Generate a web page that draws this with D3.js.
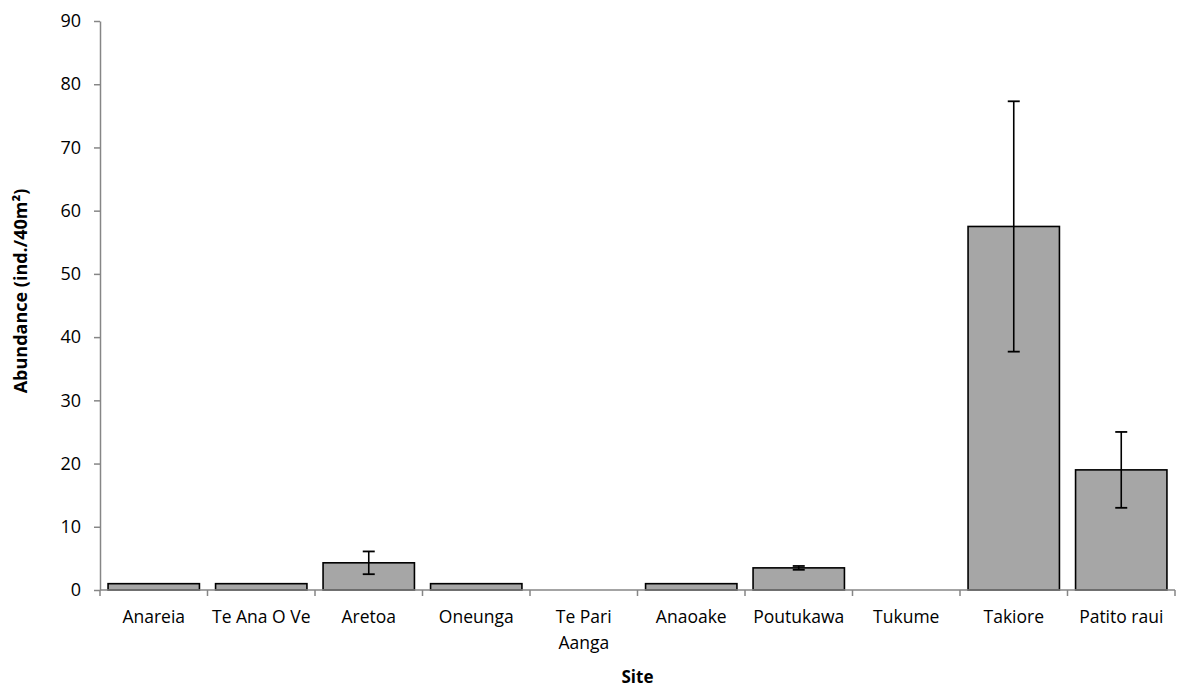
<!DOCTYPE html>
<html>
<head>
<meta charset="utf-8">
<script src="https://cdn.jsdelivr.net/npm/d3@7"></script>
<style>
  body { margin: 0; background: #fff; }
  svg text { font-family: "Open Sans", sans-serif; fill: #000; }
</style>
</head>
<body>
<script>
// Données
const sites = ['Anareia', 'Te Ana O Ve', 'Aretoa', 'Oneunga', 'Te Pari Aanga', 'Anaoake', 'Poutukawa', 'Tukume', 'Takiore', 'Patito raui'];
const abundance = [1, 1, 4.3, 1, 0, 1, 3.5, 0, 57.5, 19];
const errors = [0, 0, 1.8, 0, 0, 0, 0.3, 0, 19.8, 6];
const yTicks = [0, 10, 20, 30, 40, 50, 60, 70, 80, 90];

const data = sites.map((s, i) => ({ site: s, value: abundance[i], err: errors[i] }));

const width = 1180, height = 689;
const margin = { top: 21, right: 5, bottom: 99, left: 100 };
const innerW = width - margin.left - margin.right,
    innerH = height - margin.top - margin.bottom;

const svg = d3.select('body')
    .append('svg')
    .attr('width', width)
    .attr('height', height)
    .append('g')
    .attr('transform', `translate(${margin.left}, ${margin.top})`);

const x = d3.scaleBand()
    .domain(sites)
    .range([0, innerW])
    .paddingInner(0.15)
    .paddingOuter(0.075);

const y = d3.scaleLinear()
    .domain([0, 90])
    .range([innerH, 0]);

// Axe Y
const yAxis = svg.append('g')
    .call(d3.axisLeft(y).tickValues(yTicks).tickSize(6).tickSizeOuter(0).tickPadding(13));
yAxis.selectAll('text').style('font-size', '18px');
yAxis.selectAll('.tick line, .domain')
    .attr('stroke', '#868686')
    .attr('stroke-width', 1.5);

// Barres
svg.append('g')
    .selectAll('rect')
    .data(data)
    .join('rect')
    .attr('x', d => x(d.site))
    .attr('y', d => y(d.value))
    .attr('width', x.bandwidth())
    .attr('height', d => innerH - y(d.value))
    .attr('fill', '#a6a6a6')
    .attr('stroke', '#000')
    .attr('stroke-width', 1.6);

// Axe X (ticks entre les catégories)
const xAxisG = svg.append('g')
    .attr('transform', `translate(0, ${innerH})`);
xAxisG.append('line')
    .attr('x1', 0).attr('x2', innerW)
    .attr('stroke', '#868686').attr('stroke-width', 1.5);
const step = x.step();
const boundaries = d3.range(sites.length + 1).map(i => i * step);
xAxisG.selectAll('.bnd')
    .data(boundaries)
    .join('line')
    .attr('class', 'bnd')
    .attr('x1', d => d).attr('x2', d => d)
    .attr('y1', 0).attr('y2', 6)
    .attr('stroke', '#868686').attr('stroke-width', 1.5);

const labels = xAxisG.selectAll('.lbl')
    .data(sites)
    .join('text')
    .attr('class', 'lbl')
    .attr('text-anchor', 'middle')
    .style('font-size', '17.5px')
    .attr('transform', d => `translate(${x(d) + x.bandwidth() / 2}, 33)`);
labels.each(function (d) {
    const lines = d === 'Te Pari Aanga' ? ['Te Pari', 'Aanga'] : [d];
    d3.select(this).selectAll('tspan')
        .data(lines)
        .join('tspan')
        .attr('x', 0)
        .attr('dy', (l, i) => i === 0 ? 0 : 26)
        .text(l => l);
});

// Barres d'erreur
const errG = svg.append('g')
    .selectAll('g')
    .data(data.filter(d => d.err > 0))
    .join('g')
    .attr('transform', d => `translate(${x(d.site) + x.bandwidth() / 2}, 0)`);
errG.append('line')
    .attr('y1', d => y(d.value + d.err))
    .attr('y2', d => y(d.value - d.err))
    .attr('stroke', '#000').attr('stroke-width', 1.6);
errG.selectAll('.cap')
    .data(d => [d.value + d.err, d.value - d.err])
    .join('line')
    .attr('class', 'cap')
    .attr('x1', -6).attr('x2', 6)
    .attr('y1', v => y(v)).attr('y2', v => y(v))
    .attr('stroke', '#000').attr('stroke-width', 1.8);

// Titres des axes
svg.append('text')
    .attr('text-anchor', 'middle')
    .attr('x', innerW / 2)
    .attr('y', innerH + 93)
    .style('font-size', '17px')
    .style('font-weight', 'bold')
    .text('Site');

svg.append('text')
    .attr('text-anchor', 'middle')
    .attr('transform', `translate(${21 - margin.left}, ${291 - margin.top}) rotate(-90)`)
    .attr('dy', '0.35em')
    .style('font-size', '18px')
    .style('font-weight', 'bold')
    .text('Abundance (ind./40m²)');
</script>
</body>
</html>
